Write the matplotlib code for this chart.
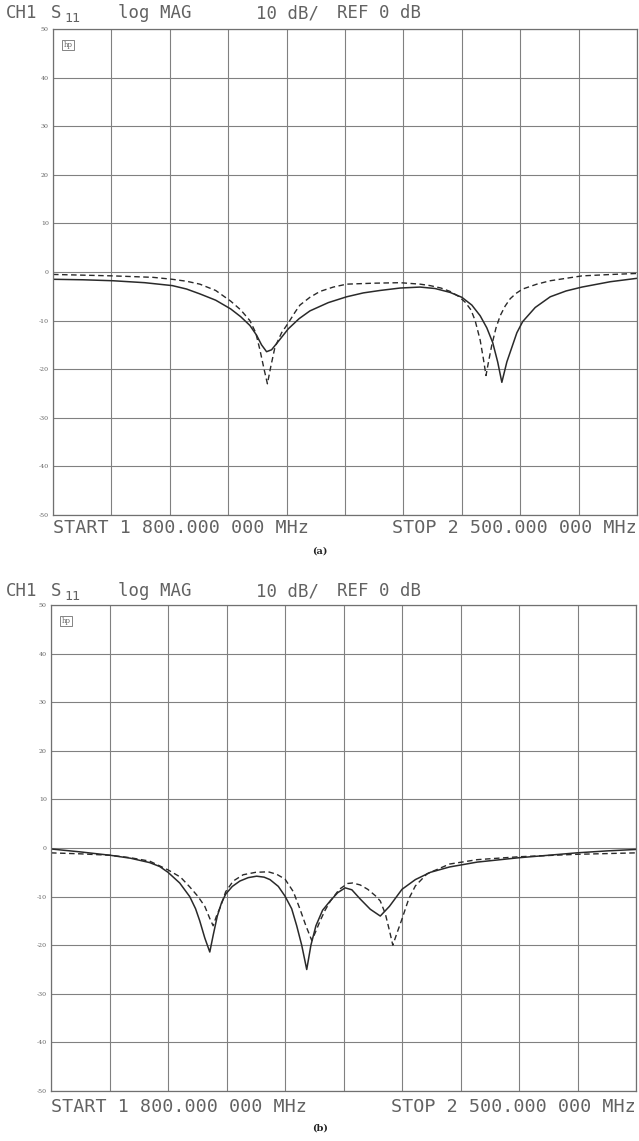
import numpy as np
import matplotlib.pyplot as plt

# ---------------------------------------------------------
# S11 traces (MHz, dB)
# ---------------------------------------------------------

# panel (a)
freq_a_solid = [1800, 1836, 1872, 1910, 1943, 1960, 1976, 1995, 2013, 2025, 2036,
                2044, 2050, 2056, 2062, 2070, 2082, 2095, 2108, 2130, 2152, 2172,
                2192, 2216, 2240, 2258, 2276, 2290, 2302, 2312, 2320, 2327, 2333,
                2338, 2344, 2350, 2356, 2363, 2378, 2396, 2415, 2434, 2468, 2500]
s11_a_solid = [-1.5, -1.6, -1.8, -2.2, -2.8, -3.5, -4.5, -5.8, -7.6, -9.2, -11.0,
               -13.0, -15.0, -16.4, -16.0, -14.3, -11.7, -9.6, -8.0, -6.3, -5.1, -4.3,
               -3.8, -3.3, -3.1, -3.4, -4.2, -5.2, -6.8, -9.0, -11.5, -14.5, -18.5,
               -22.7, -18.5, -15.5, -12.5, -10.2, -7.3, -5.1, -3.9, -3.1, -2.0, -1.3]

freq_a_dash = [1800, 1872, 1920, 1943, 1960, 1976, 1995, 2013, 2025, 2036, 2043,
               2048, 2053, 2057, 2061, 2066, 2074, 2082, 2090, 2096, 2108, 2120,
               2136, 2152, 2185, 2216, 2240, 2252, 2265, 2276, 2286, 2294, 2301,
               2306, 2312, 2316, 2319, 2322, 2326, 2331, 2336, 2342, 2348, 2355,
               2363, 2380, 2396, 2434, 2470, 2500]
s11_a_dash = [-0.5, -0.8, -1.1, -1.5, -1.9, -2.5, -3.8, -6.0, -7.8, -10.0, -12.5,
              -16.0, -20.0, -23.0, -19.5, -15.5, -12.5, -10.5, -8.3, -6.8, -5.2, -4.0,
              -3.1, -2.5, -2.3, -2.2, -2.5, -2.8, -3.3, -4.0, -5.0, -6.2, -7.8,
              -10.0, -14.0, -18.0, -21.3, -18.5, -15.0, -11.5, -9.0, -7.0, -5.5, -4.4,
              -3.5, -2.5, -1.8, -0.8, -0.5, -0.3]

# panel (b)
freq_b_solid = [1800, 1835, 1871, 1895, 1918, 1930, 1940, 1954, 1966, 1973, 1978,
                1984, 1990, 1994, 1999, 2004, 2009, 2017, 2026, 2036, 2046, 2055,
                2062, 2072, 2080, 2088, 2094, 2100, 2106, 2111, 2117, 2125, 2134,
                2143, 2152, 2160, 2170, 2182, 2194, 2205, 2220, 2236, 2254, 2277,
                2310, 2360, 2395, 2429, 2465, 2500]
s11_b_solid = [-0.2, -0.8, -1.5, -2.1, -3.0, -3.8, -5.0, -7.2, -10.0, -12.5, -15.0,
               -18.5, -21.4, -18.0, -14.0, -11.3, -9.5, -7.9, -6.8, -6.1, -5.8, -6.0,
               -6.5, -7.9, -9.9, -12.5, -16.0, -20.0, -25.0, -20.0, -16.0, -12.8, -10.9,
               -9.2, -8.2, -8.6, -10.5, -12.6, -14.0, -12.0, -8.5, -6.5, -5.0, -3.9,
               -2.9, -2.0, -1.5, -1.0, -0.6, -0.3]

freq_b_dash = [1800, 1835, 1871, 1895, 1918, 1940, 1955, 1966, 1976, 1984, 1990,
               1994, 1998, 2003, 2009, 2018, 2030, 2045, 2060, 2070, 2080, 2090,
               2098, 2105, 2112, 2116, 2122, 2128, 2134, 2145, 2155, 2161, 2170,
               2179, 2188, 2194, 2200, 2205, 2209, 2214, 2220, 2228, 2236, 2250,
               2277, 2310, 2360, 2429, 2500]
s11_b_dash = [-1.0, -1.2, -1.5, -2.0, -2.7, -4.5, -6.0, -8.0, -10.0, -12.0, -14.5,
              -16.0, -14.0, -12.0, -9.0, -6.8, -5.5, -5.0, -4.9, -5.4, -6.4, -9.0,
              -12.6, -16.0, -19.0, -17.5, -15.0, -12.8, -11.0, -8.5, -7.3, -7.2, -7.6,
              -8.5, -9.8, -10.9, -13.5, -17.0, -20.0, -17.5, -14.6, -10.5, -7.8, -5.3,
              -3.3, -2.4, -1.8, -1.3, -1.0]

db_ticks = [50, 40, 30, 20, 10, 0, -10, -20, -30, -40, -50]
freq_grid = np.linspace(1800, 2500, 11)

W, H = 639, 1141
TXT = "#626262"
INK = "#2a2a2a"
MONO = "DejaVu Sans Mono"


def px(x, y):
    return x / W, 1 - y / H


fig = plt.figure(figsize=(W / 100, H / 100), dpi=100)
fig.patch.set_facecolor("white")


def panel(left, top, right, bottom, fs, ss, fd, sd, head_y, foot_y, lab, lab_y):
    ax = fig.add_axes([left / W, 1 - bottom / H, (right - left) / W, (bottom - top) / H])
    ax.plot(fs, ss, color=INK, lw=1.1, solid_joinstyle="round")
    ax.plot(fd, sd, color=INK, lw=1.0, linestyle=(0, (4, 2.5)))
    ax.set_xlim(1800, 2500)
    ax.set_ylim(-50, 50)
    ax.set_xticks(freq_grid)
    ax.set_xticklabels([])
    ax.set_yticks(db_ticks)
    ax.set_yticklabels([str(t) for t in db_ticks], fontsize=4.5,
                       family="DejaVu Serif", color=TXT)
    ax.tick_params(length=0, pad=3)
    ax.grid(True, color="#808080", lw=0.8)
    for s in ax.spines.values():
        s.set_color("#707070")
        s.set_linewidth(0.9)

    # little hp logo box
    ax.text(0.018, 0.975, "hp", transform=ax.transAxes, fontsize=5, color=TXT,
            family="DejaVu Serif", va="top", ha="left",
            bbox=dict(boxstyle="square,pad=0.15", fc="white", ec="#707070", lw=0.6))

    # analyser header
    hs = 12.5
    fig.text(*px(6, head_y), "CH1", fontsize=hs, family=MONO, color=TXT, va="center")
    fig.text(*px(51, head_y), "S", fontsize=hs, family=MONO, color=TXT, va="center")
    fig.text(*px(64, head_y + 5), "11", fontsize=9.5, family=MONO, color=TXT, va="center")
    fig.text(*px(118, head_y), "log MAG", fontsize=hs, family=MONO, color=TXT, va="center")
    fig.text(*px(256, head_y), "10 dB/", fontsize=hs, family=MONO, color=TXT, va="center")
    fig.text(*px(337, head_y), "REF 0 dB", fontsize=hs, family=MONO, color=TXT, va="center")

    # start / stop
    fig.text(*px(left, foot_y), "START 1 800.000 000 MHz", fontsize=13.2,
             family=MONO, color=TXT, va="center", ha="left")
    fig.text(*px(right, foot_y), "STOP 2 500.000 000 MHz", fontsize=13.2,
             family=MONO, color=TXT, va="center", ha="right")

    fig.text(*px(320, lab_y), lab, fontsize=7, family="DejaVu Serif",
             weight="bold", color="#222222", ha="center", va="center")
    return ax


panel(53, 29, 637, 515, freq_a_solid, s11_a_solid, freq_a_dash, s11_a_dash,
      13, 528, "(a)", 551)
panel(51, 605, 636, 1091, freq_b_solid, s11_b_solid, freq_b_dash, s11_b_dash,
      591, 1107, "(b)", 1128)

fig.savefig("out.png", dpi=100, facecolor="white")
